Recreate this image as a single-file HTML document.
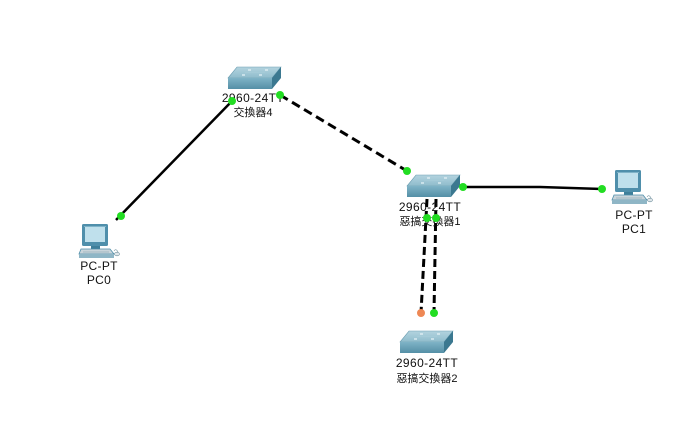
<!DOCTYPE html>
<html><head><meta charset="utf-8"><style>
html,body{margin:0;padding:0;background:#fff;width:682px;height:422px;overflow:hidden}
svg{display:block}
text{font-family:"Liberation Sans","Noto Sans CJK TC","Noto Sans CJK SC",sans-serif;font-size:12px;fill:#111}
.c{font-size:11px}
</style></head><body>
<svg width="682" height="422" viewBox="0 0 682 422" xmlns="http://www.w3.org/2000/svg">
<defs>
<linearGradient id="top" x1="0" y1="0" x2="0" y2="1"><stop offset="0" stop-color="#b3d3df"/><stop offset="1" stop-color="#8fbccc"/></linearGradient>
<linearGradient id="front" x1="0" y1="0" x2="0" y2="1"><stop offset="0" stop-color="#7fb3c6"/><stop offset="1" stop-color="#548fa6"/></linearGradient>
<g id="sw">
  <polygon points="0,0 9,-11 53,-11 44,0" fill="url(#top)" stroke="#6d9fb2" stroke-width="0.6"/>
  <rect x="0" y="0" width="44" height="11" fill="url(#front)"/>
  <polygon points="44,0 53,-11 53,0 44,11" fill="#3b7890"/>
  <g stroke="#eaf5f8" stroke-width="1.2">
    <line x1="14" y1="-3" x2="17" y2="-3"/><line x1="31" y1="-3" x2="34" y2="-3"/>
    <line x1="20" y1="-8" x2="23" y2="-8"/><line x1="37" y1="-8" x2="40" y2="-8"/>
  </g>
  <line x1="17" y1="-5.5" x2="37" y2="-5.5" stroke="#a7ccd9" stroke-width="0.8"/>
</g>
<g id="pc">
  <rect x="0" y="0" width="26" height="22" rx="1.5" fill="#4f8fab"/>
  <rect x="3" y="3" width="20" height="15" fill="#bfe0ec"/>
  <rect x="2" y="2" width="22" height="1" fill="#7fb3c8"/>
  <rect x="9" y="22" width="9" height="3" fill="#3f7f9a"/>
  <polygon points="-1,25 28,25 32,30 -3,30" fill="#c9d4da" stroke="#4f8fab" stroke-width="0.8"/>
  <rect x="-3" y="30" width="35" height="4" fill="#8fb6c6"/>
  <line x1="1" y1="28" x2="27" y2="28" stroke="#7a9aa8" stroke-width="0.6"/>
  <ellipse cx="35" cy="30" rx="2.5" ry="1.8" fill="#dfe6ea" stroke="#6f8f9c" stroke-width="0.6"/>
  <path d="M32,27 Q34,24 36,28" stroke="#6f8f9c" stroke-width="0.6" fill="none"/>
</g>
</defs>

<!-- connections -->
<line x1="116" y1="220" x2="234" y2="99" stroke="#000" stroke-width="2.5"/>
<line x1="280" y1="95" x2="407" y2="171" stroke="#000" stroke-width="3" stroke-dasharray="9,5"/>
<polyline points="462,187 540,187 602,189" fill="none" stroke="#000" stroke-width="2.5"/>
<line x1="427" y1="199" x2="421" y2="313" stroke="#000" stroke-width="3" stroke-dasharray="8,4"/>
<line x1="436" y1="199" x2="434" y2="313" stroke="#000" stroke-width="3" stroke-dasharray="8,4"/>

<!-- devices -->
<use href="#sw" transform="translate(228,78)"/>
<use href="#sw" transform="translate(407,186)"/>
<use href="#sw" transform="translate(400,342)"/>
<use href="#pc" transform="translate(615,170)"/>
<use href="#pc" transform="translate(82,224)"/>

<!-- labels -->
<text x="253" y="102" text-anchor="middle" letter-spacing="0.4">2960-24TT</text>
<text class="c" x="253" y="116" text-anchor="middle">交換器4</text>
<text x="430" y="211" text-anchor="middle" letter-spacing="0.4">2960-24TT</text>
<text class="c" x="430" y="225" text-anchor="middle">惡搞交換器1</text>
<text x="427" y="367" text-anchor="middle" letter-spacing="0.4">2960-24TT</text>
<text class="c" x="427" y="382" text-anchor="middle">惡搞交換器2</text>
<text x="99" y="270" text-anchor="middle" letter-spacing="0.3">PC-PT</text>
<text x="99" y="284" text-anchor="middle" letter-spacing="0.3">PC0</text>
<text x="634" y="219" text-anchor="middle" letter-spacing="0.3">PC-PT</text>
<text x="634" y="233" text-anchor="middle" letter-spacing="0.3">PC1</text>

<!-- port dots -->
<g fill="#22dd22">
<circle cx="121" cy="216" r="4"/>
<circle cx="232" cy="101" r="4"/>
<circle cx="280" cy="95" r="4"/>
<circle cx="407" cy="171" r="4"/>
<circle cx="463" cy="187" r="4"/>
<circle cx="602" cy="189" r="4"/>
<circle cx="427" cy="218" r="4"/>
<circle cx="436" cy="218" r="4"/>
<circle cx="434" cy="313" r="4"/>
</g>
<circle cx="421" cy="313" r="4" fill="#ee8855"/>
</svg>
</body></html>
